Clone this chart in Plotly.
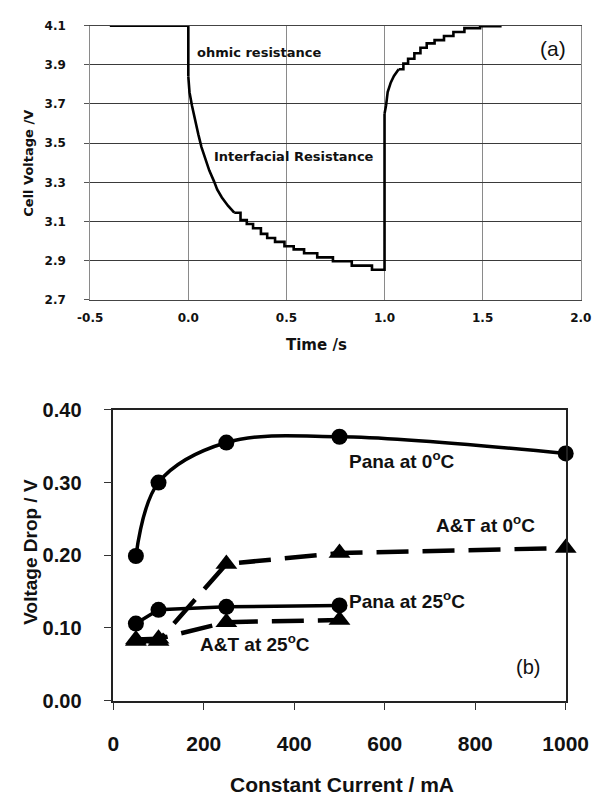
import plotly.graph_objects as go

W, H = 616, 807

# ---- Panel (a): cell voltage vs time (step-like sampled trace) ----
time_s = [-0.40, 0.0, 0.006, 0.019, 0.035, 0.051, 0.067, 0.083, 0.107, 0.131,
          0.147, 0.171, 0.202, 0.234, 0.266, 0.298, 0.330, 0.370, 0.402, 0.442,
          0.490, 0.537, 0.590, 0.657, 0.737, 0.833, 0.936,
          1.0, 1.008, 1.016, 1.032, 1.048, 1.072, 1.096, 1.120, 1.152, 1.183,
          1.215, 1.255, 1.303, 1.351, 1.407, 1.487, 1.590]
cell_voltage = [4.10, 3.84, 3.76, 3.69, 3.61, 3.545, 3.48, 3.43, 3.36, 3.305,
                3.264, 3.223, 3.181, 3.145, 3.107, 3.087, 3.066, 3.037, 3.016, 2.996,
                2.974, 2.958, 2.938, 2.917, 2.897, 2.875, 2.854,
                3.65, 3.694, 3.761, 3.81, 3.843, 3.877, 3.906, 3.931, 3.959, 3.987,
                4.009, 4.026, 4.047, 4.067, 4.087, 4.097, 4.10]

time_ticks = [-0.5, 0.0, 0.5, 1.0, 1.5, 2.0]
time_tick_text = ["-0.5", "0.0", "0.5", "1.0", "1.5", "2.0"]
volt_ticks = [2.7, 2.9, 3.1, 3.3, 3.5, 3.7, 3.9, 4.1]

# ---- Panel (b): voltage drop vs constant current ----
current_ma = [50, 100, 250, 500, 1000]
pana_0c = [0.199, 0.300, 0.355, 0.363, 0.340]
at_0c = [0.082, 0.082, 0.188, 0.203, 0.210]
current_25 = [50, 100, 250, 500]
pana_25c = [0.106, 0.125, 0.129, 0.131]
at_25c = [0.084, 0.085, 0.108, 0.111]

cur_ticks = [0, 200, 400, 600, 800, 1000]
drop_ticks = [0.0, 0.1, 0.2, 0.3, 0.4]

def px(x):
    return x / W

def py(y):
    return 1 - y / H

fig = go.Figure()

# steep parts of the trace look smooth, shallow parts show the sampling staircase
segments = [(0, 1, "hv"), (1, 13, "linear"), (13, 27, "hv"), (27, 32, "linear"), (32, 43, "hv")]
for a, b, shape in segments:
    fig.add_trace(go.Scatter(
        x=time_s[a:b + 1], y=cell_voltage[a:b + 1], mode="lines",
        line=dict(color="black", width=2.6, shape=shape),
        xaxis="x", yaxis="y", cliponaxis=False, showlegend=False))

fig.add_trace(go.Scatter(
    x=current_ma, y=pana_0c, mode="lines+markers",
    line=dict(color="black", width=3.5, shape="spline", smoothing=1.0),
    marker=dict(symbol="circle", size=16, color="black"),
    xaxis="x2", yaxis="y2", cliponaxis=False, showlegend=False))
fig.add_trace(go.Scatter(
    x=current_ma, y=at_0c, mode="lines+markers",
    line=dict(color="black", width=4.5, dash="32px,14px"),
    marker=dict(symbol="triangle-up", size=19, color="black"),
    xaxis="x2", yaxis="y2", cliponaxis=False, showlegend=False))
fig.add_trace(go.Scatter(
    x=current_25, y=pana_25c, mode="lines+markers",
    line=dict(color="black", width=3.5),
    marker=dict(symbol="circle", size=16, color="black"),
    xaxis="x2", yaxis="y2", cliponaxis=False, showlegend=False))
fig.add_trace(go.Scatter(
    x=current_25, y=at_25c, mode="lines+markers",
    line=dict(color="black", width=4.5, dash="32px,14px"),
    marker=dict(symbol="triangle-up", size=19, color="black"),
    xaxis="x2", yaxis="y2", cliponaxis=False, showlegend=False))

fig.update_layout(
    width=W, height=H, margin=dict(l=0, r=0, t=0, b=0),
    paper_bgcolor="white", plot_bgcolor="white", showlegend=False,
    xaxis=dict(domain=[px(82), px(603)], range=[-0.5, 2.0], anchor="y",
               tickvals=time_ticks, ticktext=time_tick_text,
               showgrid=True, gridcolor="#8a8a8a", gridwidth=1, zeroline=False,
               showline=True, mirror=True, linecolor="#444", linewidth=1,
               ticks="", tickfont=dict(family="DejaVu Sans", size=12, color="#111", weight="bold"),
               ticklabelstandoff=7),
    yaxis=dict(domain=[py(297), py(15)], range=[2.7, 4.1], anchor="x",
               tickvals=volt_ticks, tickformat=".1f",
               showgrid=True, gridcolor="#3a3a3a", gridwidth=1, zeroline=False,
               showline=True, mirror=True, linecolor="#8a8a8a", linewidth=1,
               ticks="outside", ticklen=5, tickcolor="#555",
               tickfont=dict(family="DejaVu Sans", size=12, color="#111", weight="bold"),
               ticklabelstandoff=16),
    xaxis2=dict(domain=[px(106.5), px(587)], range=[0, 1000], anchor="y2",
                tickvals=cur_ticks, showgrid=False, zeroline=False,
                showline=True, mirror=True, linecolor="#222", linewidth=1.5,
                ticks="outside", ticklen=8, tickcolor="#333",
                tickfont=dict(family="Liberation Sans", size=21, color="#111", weight="bold"),
                ticklabelstandoff=15),
    yaxis2=dict(domain=[py(709), py(410)], range=[0, 0.40], anchor="x2",
                tickvals=drop_ticks, tickformat=".2f", showgrid=False, zeroline=False,
                showline=True, mirror=True, linecolor="#222", linewidth=1.5,
                ticks="outside", ticklen=8, tickcolor="#333",
                tickfont=dict(family="Liberation Sans", size=20, color="#111", weight="bold"),
                ticklabelstandoff=18),
)

def note(text, x, y, size, family, bold=True, xanchor="left", angle=0):
    fig.add_annotation(
        text=text, x=px(x), y=py(y), xref="paper", yref="paper",
        xanchor=xanchor, yanchor="middle", showarrow=False, textangle=angle,
        font=dict(family=family, size=size, color="#111", weight="bold" if bold else "normal"))

# Panel (a) texts
note("ohmic resistance", 193, 43, 13, "DejaVu Sans")
note("Interfacial Resistance", 211, 150, 13, "DejaVu Sans")
note("(a)", 573, 39, 21, "Liberation Sans", bold=False, xanchor="center")
note("Cell Voltage /V", 17, 157, 13, "DejaVu Sans", xanchor="center", angle=-90)
note("Time /s", 322, 343, 15, "DejaVu Sans", xanchor="center")

# Panel (b) texts
note("Pana at 0<sup>o</sup>C", 355, 462, 19, "Liberation Sans")
note("A&amp;T at 0<sup>o</sup>C", 447, 527, 19, "Liberation Sans")
note("Pana at 25<sup>o</sup>C", 355, 606, 19, "Liberation Sans")
note("A&amp;T at 25<sup>o</sup>C", 197, 650, 19, "Liberation Sans")
note("(b)", 547, 674, 20, "Liberation Sans", bold=False, xanchor="center")
note("Voltage Drop / V", 19, 556, 19, "Liberation Sans", xanchor="center", angle=-90)
note("Constant Current / mA", 349, 795, 21, "Liberation Sans", xanchor="center")

fig.write_html("out.html")
